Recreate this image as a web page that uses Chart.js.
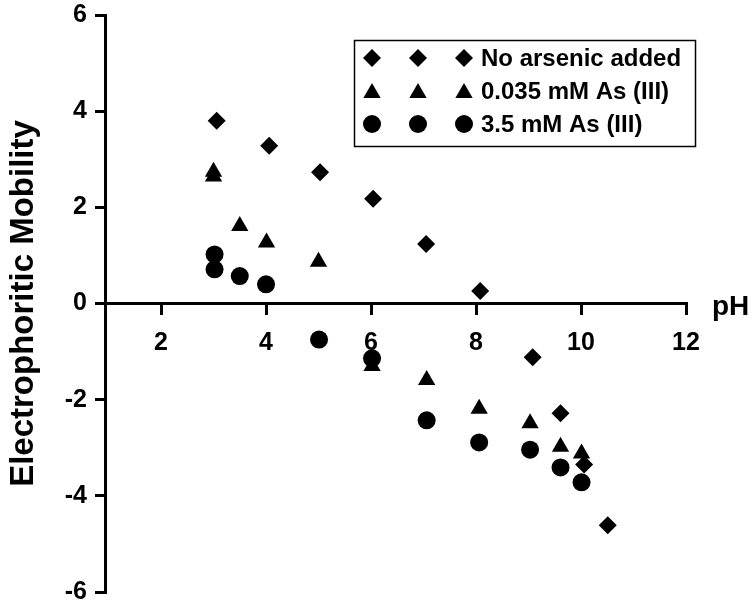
<!DOCTYPE html>
<html>
<head>
<meta charset="utf-8">
<script src="https://cdn.jsdelivr.net/npm/chart.js@4.4.1/dist/chart.umd.min.js"></script>
<style>
  body { margin: 0; background: #fff; }
  canvas { display: block; }
</style>
</head>
<body>
<canvas id="mobilityChart" width="756" height="606"></canvas>
<script>
// values
const seriesNames = ['No arsenic added', '0.035 mM As (III)', '3.5 mM As (III)'];

const phNoAs = [3.06, 4.06, 5.03, 6.04, 7.05, 8.08, 9.08, 9.61, 10.06, 10.51];
const mobNoAs = [3.80, 3.28, 2.73, 2.18, 1.24, 0.26, -1.12, -2.28, -3.35, -4.61];

const phLow = [3.0, 3.0, 3.50, 4.01, 5.00, 6.02, 7.06, 8.06, 9.03, 9.61, 10.01];
const mobLow = [2.74, 2.64, 1.61, 1.27, 0.87, -1.30, -1.59, -2.19, -2.49, -2.98, -3.12];

const phHigh = [3.02, 3.02, 3.50, 4.00, 5.01, 6.02, 7.06, 8.06, 9.03, 9.61, 10.01];
const mobHigh = [1.02, 0.71, 0.57, 0.40, -0.75, -1.14, -2.43, -2.89, -3.04, -3.41, -3.72];

const xTicks = [2, 4, 6, 8, 10, 12];
const yTicks = [-6, -4, -2, 0, 2, 4, 6];

const FONT = '"Liberation Sans", Arial, sans-serif';

function toPoints(xs, ys) {
  return xs.map((x, i) => ({ x: x, y: ys[i] }));
}

// draws one marker the same way chart.js does for the plot
function drawMarker(ctx, style, x, y, r) {
  ctx.beginPath();
  if (style === 'circle') {
    ctx.arc(x, y, r, 0, Math.PI * 2);
  } else if (style === 'rectRot') {
    ctx.moveTo(x - r, y);
    ctx.lineTo(x, y - r);
    ctx.lineTo(x + r, y);
    ctx.lineTo(x, y + r);
  } else if (style === 'triangle') {
    ctx.moveTo(x, y - r);
    ctx.lineTo(x + Math.sin(2 * Math.PI / 3) * r, y + r / 2);
    ctx.lineTo(x - Math.sin(2 * Math.PI / 3) * r, y + r / 2);
  }
  ctx.closePath();
  ctx.fill();
}

// legend box with three markers per row, and the pH label at the axis end
const extrasPlugin = {
  id: 'extras',
  afterDraw(chart) {
    const ctx = chart.ctx;
    ctx.save();
    ctx.strokeStyle = '#000';
    ctx.lineWidth = 1.5;
    ctx.strokeRect(354.5, 40.5, 341, 106);

    ctx.fillStyle = '#000';
    ctx.font = 'bold 24px ' + FONT;
    ctx.textBaseline = 'middle';
    ctx.textAlign = 'left';
    const rows = [58, 91, 124];
    chart.data.datasets.forEach((ds, i) => {
      [372, 418, 464].forEach((mx) => {
        drawMarker(ctx, ds.pointStyle, mx, rows[i] + (ds.pointStyle === 'triangle' ? 2 : 0), ds.pointRadius);
      });
      ctx.fillText(seriesNames[i], 481, rows[i] + 1);
    });

    ctx.font = 'bold 28px ' + FONT;
    ctx.textBaseline = 'alphabetic';
    ctx.fillText('pH', 712, 315);
    ctx.restore();
  }
};

const ctx = document.getElementById('mobilityChart').getContext('2d');
new Chart(ctx, {
  type: 'scatter',
  data: {
    datasets: [
      {
        label: seriesNames[0],
        data: toPoints(phNoAs, mobNoAs),
        pointStyle: 'rectRot',
        pointRadius: 9,
        backgroundColor: '#000',
        borderWidth: 0
      },
      {
        label: seriesNames[1],
        data: toPoints(phLow, mobLow),
        pointStyle: 'triangle',
        pointRadius: 10,
        backgroundColor: '#000',
        borderWidth: 0
      },
      {
        label: seriesNames[2],
        data: toPoints(phHigh, mobHigh),
        pointStyle: 'circle',
        pointRadius: 9,
        backgroundColor: '#000',
        borderWidth: 0
      }
    ]
  },
  options: {
    responsive: false,
    animation: false,
    layout: { padding: { left: 0, top: 15, right: 70, bottom: 14 } },
    plugins: {
      legend: { display: false },
      tooltip: { enabled: false }
    },
    scales: {
      x: {
        type: 'linear',
        position: { y: 0 },
        min: 0.933,
        max: 12,
        afterBuildTicks: (scale) => {
          scale.ticks = xTicks.map(v => ({ value: v }));
        },
        afterFit: (scale) => {
          scale.paddingTop = 0;
          scale.paddingBottom = 0;
        },
        ticks: {
          color: '#000',
          padding: 15,
          font: { family: FONT, size: 25, weight: 'bold' }
        },
        grid: {
          drawOnChartArea: false,
          drawTicks: true,
          tickLength: 10,
          color: '#000',
          lineWidth: 3
        },
        border: { display: true, color: '#000', width: 3 }
      },
      y: {
        type: 'linear',
        position: 'left',
        min: -6,
        max: 6,
        afterBuildTicks: (scale) => {
          scale.ticks = yTicks.map(v => ({ value: v }));
        },
        afterFit: (scale) => {
          scale.width = 105;
          scale.paddingTop = 0;
          scale.paddingBottom = 0;
        },
        ticks: {
          color: '#000',
          padding: 8,
          font: { family: FONT, size: 25, weight: 'bold' }
        },
        grid: {
          drawOnChartArea: false,
          drawTicks: true,
          tickLength: 10,
          color: '#000',
          lineWidth: 3
        },
        border: { display: true, color: '#000', width: 3 },
        title: {
          display: true,
          text: 'Electrophoritic Mobility',
          color: '#000',
          padding: { top: 4, bottom: 0 },
          font: { family: FONT, size: 33, weight: 'bold' }
        }
      }
    }
  },
  plugins: [extrasPlugin]
});
</script>
</body>
</html>
